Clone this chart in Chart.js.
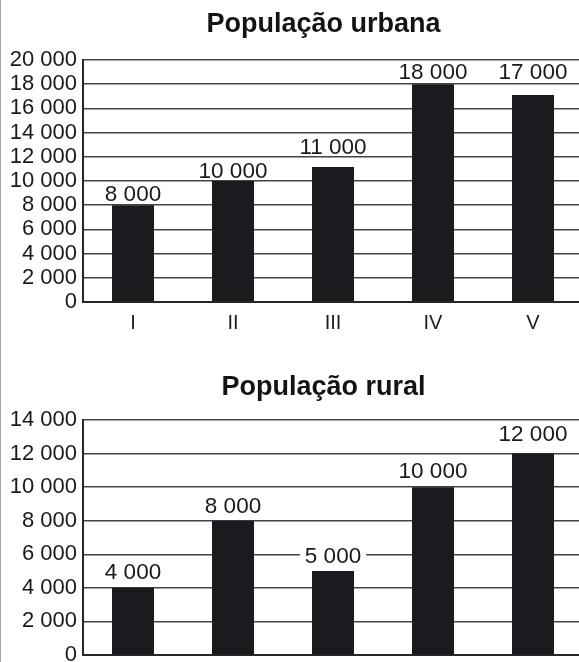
<!DOCTYPE html>
<html>
<head>
<meta charset="utf-8">
<script src="https://cdn.jsdelivr.net/npm/chart.js@4.4.1/dist/chart.umd.min.js"></script>
<style>
  html, body { margin: 0; padding: 0; width: 579px; height: 662px; overflow: hidden; background: #fff; }
  #wrap { position: relative; width: 579px; height: 662px; overflow: hidden; }
  canvas { position: absolute; left: 0; }
  #c1 { top: 0; }
  #c2 { top: 340px; }
  #edge { position: absolute; left: 0; top: 0; width: 1px; height: 662px; background: #a8a8a8; }
</style>
</head>
<body>
<div id="wrap">
  <canvas id="c1" width="647" height="342"></canvas>
  <canvas id="c2" width="647" height="355"></canvas>
  <div id="edge"></div>
</div>
<script>
// ---- data ----
const categories = ['I', 'II', 'III', 'IV', 'V'];
const urbanTitle = 'População urbana';
const urbanValues = [8000, 10000, 11150, 18000, 17100];
const urbanLabels = ['8 000', '10 000', '11 000', '18 000', '17 000'];
const urbanMax = 20000;
const ruralTitle = 'População rural';
const ruralValues = [4000, 8000, 5000, 10000, 12000];
const ruralLabels = ['4 000', '8 000', '5 000', '10 000', '12 000'];
const ruralMax = 14000;
const tickStep = 2000;

const FONT = '"Liberation Sans", Arial, Helvetica, sans-serif';
const fmt = v => String(v).replace(/\B(?=(\d{3})+(?!\d))/g, ' ');

const valueLabelPlugin = {
  id: 'valueLabels',
  afterDatasetsDraw(chart, args, opts) {
    const ctx = chart.ctx;
    const meta = chart.getDatasetMeta(0);
    ctx.save();
    ctx.font = opts.font;
    ctx.textAlign = 'center';
    ctx.textBaseline = 'alphabetic';
    meta.data.forEach((bar, i) => {
      const text = opts.labels[i];
      const y = bar.y - opts.gaps[i];
      const w = ctx.measureText(text).width;
      ctx.fillStyle = '#ffffff';
      ctx.fillRect(bar.x - w / 2 - 5, y - 17, w + 10, 18);
      ctx.fillStyle = '#1a1a1a';
      ctx.fillText(text, bar.x, y);
    });
    ctx.restore();
  }
};

const headingPlugin = {
  id: 'heading',
  afterDraw(chart, args, opts) {
    const ctx = chart.ctx;
    ctx.save();
    ctx.font = opts.font;
    ctx.fillStyle = opts.color;
    ctx.textAlign = 'center';
    ctx.textBaseline = 'alphabetic';
    ctx.fillText(opts.text, opts.x, opts.baseline);
    ctx.restore();
  }
};

function makeChart(id, title, values, labels, max, gaps, topPad, titleBaseline) {
  return new Chart(document.getElementById(id), {
    type: 'bar',
    data: {
      labels: categories,
      datasets: [{
        data: values,
        backgroundColor: '#1b1a1e',
        borderWidth: 0,
        barPercentage: 0.42,
        categoryPercentage: 1.0
      }]
    },
    options: {
      responsive: false,
      animation: false,
      layout: { padding: { left: 0, right: 64, top: topPad, bottom: 0 } },
      plugins: {
        legend: { display: false },
        tooltip: { enabled: false },
        title: { display: false },
        heading: { text: title, x: 323.5, baseline: titleBaseline, color: '#131313', font: 'bold 27px ' + FONT },
        valueLabels: { labels: labels, gaps: gaps, font: '22.5px ' + FONT }
      },
      scales: {
        x: {
          grid: { display: false },
          border: { display: true, color: '#262626', width: 2 },
          ticks: { color: '#1e1e1e', font: { family: FONT, size: 20 }, padding: 1 },
          afterFit(s) { s.height = 40; }
        },
        y: {
          min: 0,
          max: max,
          grid: { color: '#444444', lineWidth: 1.5, drawTicks: false },
          border: { display: true, color: '#262626', width: 2 },
          ticks: {
            stepSize: tickStep,
            autoSkip: false,
            color: '#1a1a1a',
            font: { family: FONT, size: 22 },
            padding: 6,
            callback: v => fmt(v)
          },
          afterFit(s) { s.width = 83; }
        }
      }
    },
    plugins: [valueLabelPlugin, headingPlugin]
  });
}

makeChart('c1', urbanTitle, urbanValues, urbanLabels, urbanMax, [4, 3, 13, 5, 16], 60, 32);
makeChart('c2', ruralTitle, ruralValues, ruralLabels, ruralMax, [9, 8, 8, 9, 13], 80, 55);
</script>
</body>
</html>
